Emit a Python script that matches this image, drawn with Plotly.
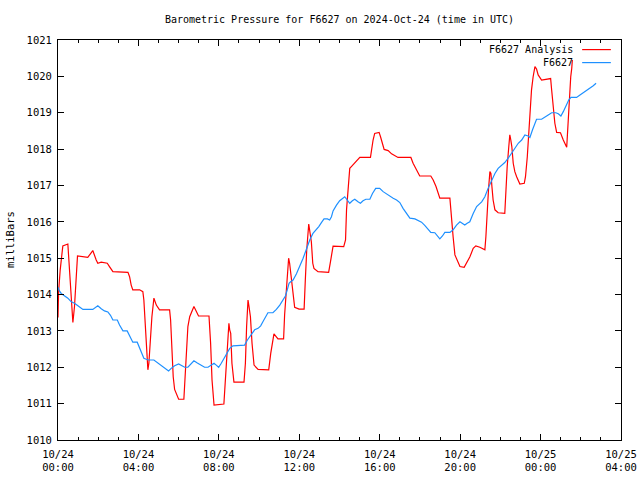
import pandas as pd
import plotly.graph_objects as go

# ---- data (hours after 2024-10-24 00:00 UTC, pressure in mbar) ----
analysis_hours = [0.0, 0.03, 0.11, 0.19, 0.24, 0.49, 0.57, 0.62, 0.69, 0.74, 0.82, 0.87, 0.92, 0.97,
                  1.48, 1.73, 1.90, 1.98, 2.15, 2.45, 2.56, 2.73, 3.48, 3.56, 3.64, 3.72, 4.06, 4.22,
                  4.27, 4.34, 4.40, 4.47, 4.52, 4.59, 4.67, 4.77, 4.89, 5.05, 5.55, 5.60, 5.67, 5.73,
                  5.80, 6.00, 6.26, 6.33, 6.40, 6.46, 6.55, 6.76, 6.99, 7.51, 7.54, 7.59, 7.66, 7.76,
                  8.25, 8.32, 8.39, 8.45, 8.50, 8.54, 8.59, 8.65, 8.75, 9.25, 9.32, 9.38, 9.45, 9.50,
                  9.57, 9.65, 9.75, 9.95, 10.48, 10.58, 10.69, 10.74, 10.94, 11.22, 11.27, 11.37,
                  11.47, 11.52, 11.61, 11.71, 11.77, 11.99, 12.24, 12.30, 12.37, 12.47, 12.52, 12.60,
                  12.67, 12.73, 12.93, 13.46, 13.55, 13.63, 13.68, 14.21, 14.30, 14.35, 14.43, 14.51,
                  14.59, 14.76, 15.01, 15.54, 15.59, 15.67, 15.75, 15.97, 16.04, 16.14, 16.22, 16.42,
                  16.59, 16.91, 17.55, 17.66, 17.80, 17.99, 18.54, 18.66, 18.80, 18.91, 18.99, 19.49,
                  19.57, 19.65, 19.74, 19.85, 19.99, 20.20, 20.32, 20.48, 20.65, 20.78, 20.98, 21.23,
                  21.28, 21.34, 21.41, 21.48, 21.53, 21.58, 21.64, 21.73, 21.89, 22.22, 22.27, 22.34,
                  22.42, 22.47, 22.52, 22.57, 22.64, 22.72, 22.81, 22.97, 23.19, 23.25, 23.34, 23.40,
                  23.47, 23.55, 23.63, 23.72, 23.80, 23.88, 24.05, 24.35, 24.50, 24.55, 24.63, 24.71,
                  24.80, 24.99, 25.13, 25.21, 25.30, 25.33, 25.38, 25.43, 25.50, 25.55, 25.58]
analysis_mb = [1013.37, 1014.08, 1014.68, 1015.09, 1015.34, 1015.39, 1014.77, 1014.31, 1013.67, 1013.23,
               1013.67, 1014.13, 1014.68, 1015.06, 1015.02, 1015.21, 1014.95, 1014.86, 1014.89, 1014.86,
               1014.77, 1014.63, 1014.61, 1014.49, 1014.26, 1014.13, 1014.13, 1014.08, 1013.85, 1013.12,
               1012.57, 1011.93, 1012.11, 1012.75, 1013.39, 1013.90, 1013.71, 1013.58, 1013.58, 1013.30,
               1012.48, 1011.74, 1011.39, 1011.12, 1011.12, 1011.83, 1012.57, 1013.12, 1013.39, 1013.67,
               1013.41, 1013.41, 1013.12, 1012.66, 1011.65, 1010.96, 1010.99, 1011.65, 1012.38, 1012.93,
               1013.21, 1013.03, 1012.93, 1012.11, 1011.59, 1011.59, 1012.11, 1013.12, 1013.85, 1013.67,
               1013.39, 1012.66, 1012.06, 1011.94, 1011.93, 1012.38, 1012.84, 1012.92, 1012.78, 1012.78,
               1013.44, 1014.22, 1015.00, 1014.86, 1014.40, 1013.85, 1013.65, 1013.60, 1013.60, 1014.40,
               1015.23, 1015.94, 1015.78, 1015.45, 1014.86, 1014.72, 1014.63, 1014.61, 1014.90, 1015.15,
               1015.33, 1015.32, 1015.50, 1016.33, 1016.88, 1017.47, 1017.52, 1017.63, 1017.77, 1017.77,
               1017.98, 1018.25, 1018.43, 1018.46, 1018.34, 1018.16, 1017.99, 1017.96, 1017.87, 1017.77,
               1017.77, 1017.61, 1017.47, 1017.26, 1017.26, 1017.15, 1016.97, 1016.78, 1016.65, 1016.65,
               1016.05, 1015.59, 1015.09, 1014.95, 1014.77, 1014.75, 1014.86, 1015.03, 1015.27, 1015.34,
               1015.30, 1015.23, 1015.59, 1016.33, 1016.88, 1017.38, 1017.33, 1016.97, 1016.60, 1016.33,
               1016.25, 1016.23, 1016.88, 1017.52, 1018.07, 1018.39, 1018.25, 1018.07, 1017.61, 1017.38,
               1017.24, 1017.04, 1017.06, 1017.24, 1017.79, 1018.34, 1018.98, 1019.63, 1019.99, 1020.27,
               1020.20, 1020.04, 1019.90, 1019.92, 1019.94, 1019.63, 1019.17, 1018.71, 1018.46, 1018.45,
               1018.25, 1018.16, 1018.05, 1018.34, 1018.89, 1019.44, 1019.99, 1020.22, 1020.45]

station_hours = [0.0, 0.07, 0.16, 0.32, 0.49, 0.66, 0.82, 0.99, 1.15, 1.24, 1.73, 1.85, 1.98, 2.15, 2.31,
                 2.48, 2.61, 2.73, 2.95, 3.06, 3.23, 3.44, 3.56, 3.72, 3.94, 4.06, 4.17, 4.27, 4.39, 4.50,
                 4.77, 4.89, 5.05, 5.22, 5.38, 5.50, 5.63, 5.80, 6.00, 6.13, 6.30, 6.46, 6.63, 6.76, 6.93,
                 7.13, 7.29, 7.46, 7.63, 7.76, 7.87, 7.99, 8.12, 8.25, 8.37, 8.54, 8.70, 9.28, 9.42, 9.53,
                 9.65, 9.78, 9.95, 10.08, 10.19, 10.31, 10.44, 10.69, 10.86, 11.03, 11.19, 11.31, 11.41,
                 11.49, 11.57, 11.69, 11.86, 12.02, 12.19, 12.35, 12.52, 12.68, 12.85, 12.97, 13.10, 13.23,
                 13.40, 13.51, 13.60, 13.68, 13.85, 14.01, 14.26, 14.43, 14.51, 14.64, 14.76, 14.92, 15.04,
                 15.17, 15.31, 15.51, 15.64, 15.80, 16.00, 16.17, 16.33, 16.50, 16.67, 16.84, 17.00, 17.16,
                 17.33, 17.50, 17.75, 17.91, 18.08, 18.24, 18.41, 18.54, 18.74, 18.86, 18.99, 19.12, 19.24,
                 19.49, 19.65, 19.82, 19.99, 20.10, 20.23, 20.35, 20.48, 20.65, 20.82, 21.07, 21.23, 21.39,
                 21.56, 21.73, 21.89, 22.06, 22.22, 22.39, 22.56, 22.72, 22.89, 23.06, 23.22, 23.38, 23.47,
                 23.60, 23.72, 23.80, 24.05, 24.22, 24.38, 24.55, 24.76, 24.88, 25.01, 25.13, 25.26, 25.40,
                 25.51, 25.79, 25.96, 26.13, 26.29, 26.46, 26.62, 26.76]
station_mb = [1014.20, 1014.10, 1014.03, 1013.97, 1013.90, 1013.80, 1013.76, 1013.69, 1013.62, 1013.59,
              1013.59, 1013.65, 1013.69, 1013.61, 1013.55, 1013.52, 1013.43, 1013.30, 1013.30, 1013.16,
              1013.00, 1013.00, 1012.86, 1012.69, 1012.69, 1012.53, 1012.39, 1012.25, 1012.22, 1012.20,
              1012.20, 1012.15, 1012.09, 1012.02, 1011.95, 1011.90, 1011.97, 1012.04, 1012.09, 1012.05,
              1012.00, 1012.00, 1012.09, 1012.18, 1012.12, 1012.06, 1012.00, 1012.00, 1012.06, 1012.11,
              1012.06, 1012.00, 1012.11, 1012.25, 1012.38, 1012.52, 1012.59, 1012.61, 1012.75, 1012.84,
              1012.95, 1013.03, 1013.07, 1013.14, 1013.25, 1013.37, 1013.50, 1013.50, 1013.59, 1013.71,
              1013.85, 1013.96, 1014.14, 1014.31, 1014.35, 1014.40, 1014.57, 1014.77, 1015.00, 1015.24,
              1015.50, 1015.68, 1015.78, 1015.87, 1015.98, 1016.08, 1016.08, 1016.05, 1016.14, 1016.30,
              1016.46, 1016.58, 1016.69, 1016.55, 1016.51, 1016.58, 1016.62, 1016.55, 1016.51, 1016.58,
              1016.62, 1016.62, 1016.78, 1016.92, 1016.92, 1016.83, 1016.77, 1016.69, 1016.65, 1016.60,
              1016.53, 1016.37, 1016.23, 1016.10, 1016.08, 1016.03, 1015.99, 1015.90, 1015.80, 1015.71,
              1015.70, 1015.61, 1015.53, 1015.61, 1015.71, 1015.71, 1015.78, 1015.91, 1016.00, 1015.96,
              1015.91, 1015.96, 1016.00, 1016.23, 1016.42, 1016.55, 1016.69, 1016.92, 1017.15, 1017.33,
              1017.47, 1017.54, 1017.63, 1017.75, 1017.88, 1018.02, 1018.16, 1018.25, 1018.39, 1018.36,
              1018.32, 1018.53, 1018.71, 1018.82, 1018.82, 1018.87, 1018.94, 1019.00, 1019.00, 1018.97,
              1018.91, 1019.03, 1019.19, 1019.35, 1019.42, 1019.42, 1019.49, 1019.55, 1019.61, 1019.67,
              1019.74, 1019.81]

series_names = ["F6627 Analysis", "F6627"]
series_colors = ["#ff0000", "#1e90ff"]
y_ticks = list(range(1010, 1022))
start = pd.Timestamp("2024-10-24 00:00")
x_range = ["2024-10-24 00:00", "2024-10-25 04:00"]

def to_time(hours):
    return [start + pd.Timedelta(hours=h) for h in hours]

FONT = "DejaVu Sans Mono"
W, H = 640, 480

fig = go.Figure()
fig.add_trace(go.Scatter(x=to_time(analysis_hours), y=analysis_mb, mode="lines",
                         name=series_names[0], line=dict(color=series_colors[0], width=1.2)))
fig.add_trace(go.Scatter(x=to_time(station_hours), y=station_mb, mode="lines",
                         name=series_names[1], line=dict(color=series_colors[1], width=1.2)))

# legend in gnuplot style (text left of sample)
for i, (nm, col) in enumerate(zip(series_names, series_colors)):
    yy = 0.976 - i * 0.0325
    fig.add_annotation(x=0.919, y=yy, xref="paper", yref="paper", text=nm, showarrow=False,
                       xanchor="right", yanchor="middle", font=dict(family=FONT, size=10, color="black"))
    fig.add_shape(type="line", xref="paper", yref="paper", x0=0.931, x1=0.982, y0=yy, y1=yy,
                  line=dict(color=col, width=1.2))

# y-axis label
fig.add_annotation(x=(10 - 58) / 563, y=0.5, xref="paper", yref="paper", text="milliBars",
                   showarrow=False, textangle=-90, xanchor="center", yanchor="middle",
                   font=dict(family=FONT, size=10.5, color="black"))

fig.update_layout(
    width=W, height=H,
    margin=dict(l=58, r=19, t=40, b=40, autoexpand=False),
    paper_bgcolor="white", plot_bgcolor="white",
    showlegend=False,
    font=dict(family=FONT, size=10, color="black"),
    title=dict(text="Barometric Pressure for F6627 on 2024-Oct-24 (time in UTC)",
               x=339.5 / W, xanchor="center", y=1 - 19 / H, yanchor="middle",
               yref="container", font=dict(family=FONT, size=10, color="black")),
)
fig.update_xaxes(
    type="date", range=x_range, showgrid=False, zeroline=False, automargin=False,
    showline=True, linecolor="black", linewidth=1, mirror="allticks",
    ticks="inside", ticklen=6, tickcolor="black", tickwidth=1,
    dtick=4 * 3600 * 1000, tick0="2024-10-24 00:00", tickformat="%m/%d<br>%H:%M",
    minor=dict(ticks="inside", ticklen=3, dtick=3600 * 1000, tickcolor="black", showgrid=False),
    tickfont=dict(family=FONT, size=10.5), ticklabelstandoff=4, ticklabeloverflow="allow",
)
fig.update_yaxes(
    range=[1010, 1021], showgrid=False, zeroline=False, automargin=False,
    showline=True, linecolor="black", linewidth=1, mirror="allticks",
    ticks="inside", ticklen=6, tickcolor="black", tickwidth=1,
    tickvals=y_ticks, ticktext=[str(v) for v in y_ticks],
    tickfont=dict(family=FONT, size=10.5), ticklabelstandoff=3,
)

fig.write_html("out.html", config={"displayModeBar": False},
               post_script="document.body.style.margin='0';document.body.style.overflow='hidden';")
